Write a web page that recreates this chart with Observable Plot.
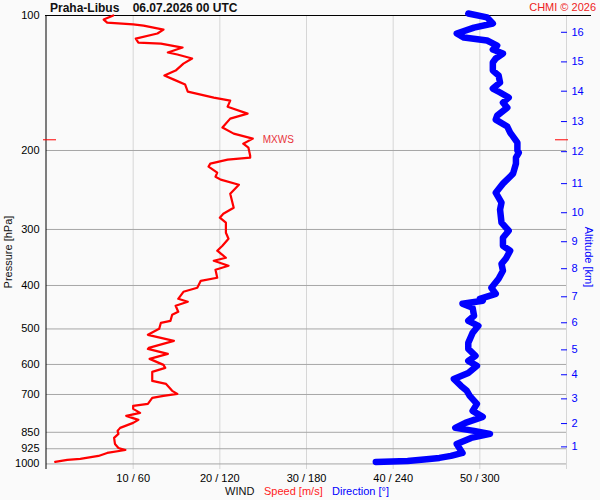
<!DOCTYPE html>
<html><head><meta charset="utf-8">
<script src="https://cdn.jsdelivr.net/npm/d3@7"></script>
<script src="https://cdn.jsdelivr.net/npm/@observablehq/plot@0.6"></script>
<style>
body{margin:0;background:#fafafa;}
svg text{font-family:"Liberation Sans",Arial,sans-serif;}
</style></head><body><div id="chart"></div>
<script>
const speedPressure = [100,102.1,103.7,104.7,105.3,107.5,109.7,112.6,114.9,115.5,117.9,120.9,122.2,124.7,128,132.7,136.1,139,142.6,147.8,152.4,154.8,159.7,165.5,169.8,177.8,183.4,188.2,193.1,197.1,205.4,207.5,209.6,214,217.3,224.1,228.8,232.3,238.4,249.7,268.3,276.7,282.4,289.7,305.1,314.7,326.2,334.6,346.9,352.3,361.4,368.9,384.5,390.5,404.8,413.2,428.3,434.9,444,457.9,465,479.6,484.5,499.7,515.3,523.4,531.5,551.1,553.9,568.3,583.1,601.3,610.7,623.3,652.9,663.1,687.1,698,705.1,712.4,734.5,742.1,753.7,769.4,781.3,797.5,809.9,830.9,843.8,857,875,902.5,921.2,930.8,945,959.7,974.5,979.5,989.7];
const speedValues = [7.7,6.6,7.0,10.0,11.2,13.5,12.8,10.3,10.6,13.2,15.7,14.0,15.1,16.8,15.8,14.9,13.6,14.7,16.0,16.3,19.3,21.2,20.9,23.2,21.2,20.3,21.6,23.8,22.7,23.3,23.5,23.5,20.9,18.9,18.7,19.7,19.5,20.1,22.2,21.2,21.6,20.4,20.0,20.7,20.7,21.0,20.3,19.7,20.7,19.3,21.0,19.5,19.7,17.8,17.4,15.8,15.2,16.3,14.9,15.2,14.5,14.3,13.2,13.0,11.7,13.2,14.7,11.8,11.7,14.0,11.9,13.5,13.7,12.2,12.2,13.8,14.5,15.1,13.5,12.2,11.7,10.0,10.0,10.8,9.2,10.6,10.0,8.5,8.2,8.3,7.8,7.9,8.3,9.1,7.0,6.0,3.9,2.4,1.0];
const dirPressure = [99,101,104.2,106.4,109.7,112,113.7,116.7,119.1,121.6,124.7,127.3,132.7,136.1,141.1,145.5,148.5,152.4,156.4,160.5,167.2,170.7,176.9,182.4,192.1,200.1,202.2,207.5,214,225.3,237.1,248.4,261.5,271,289.7,302,313.1,326.2,334.6,348.6,357.8,370.8,386.4,404.8,417.4,428.3,432.6,439.3,448.4,467.4,479.6,492,510.1,537,553.9,574.1,589.1,604.3,626.6,646.3,670,687.1,705.1,734.5,761.5,785.3,809.9,830.9,843.8,857,875,902.5,945,959.7,969.6,974.5,984.7,989.7];
const dirValues = [292,305,309,296,284,289,305,312,309,316,311,309,309,313,314,309,314,320,316,319,312,311,319,321,326,326,327,325,325,323,316,311,315,314,315,320,316,316,321,318,315,316,313,308,311,300,302,288,295,296,292,299,295,292,292,297,292,298,292,282,287,291,293,298,295,302,290,283,296,307,294,284,288,280,272,265,250,228];
const pressureTicks = [100,200,300,400,500,600,700,850,925,1000];
const speedTicks = [10,20,30,40,50];
const directionTicks = [60,120,180,240,300];
const altitudeKm = [1,2,3,4,5,6,7,8,9,10,11,12,13,14,15,16];
const altitudePressure = [916.2,812.8,716,632.6,556.7,484.4,423.9,367,319.5,275.3,237.1,201.2,172.4,147.5,126.9,109.0];
const mxws = [{p: 189.3, speed: 23.8, label: "MXWS"}];

const speedData = speedPressure.map((p, i) => ({p, v: speedValues[i]}));
const dirData = dirPressure.map((p, i) => ({p, v: dirValues[i] / 6}));

const plot = Plot.plot({
  width: 600, height: 500,
  marginLeft: 46, marginRight: 34, marginTop: 15, marginBottom: 31,
  style: {background: "#fafafa", fontFamily: "Liberation Sans, Arial, sans-serif", fontSize: "11px", overflow: "visible"},
  x: {domain: [0, 60]},
  y: {type: "log", domain: [100, 1029], reverse: true},
  marks: [
    Plot.gridX(speedTicks.concat([60]), {stroke: "#d6d6d6", strokeOpacity: 1}),
    Plot.gridY(pressureTicks.slice(1), {stroke: "#a6a6a6", strokeOpacity: 1}),
    Plot.ruleY([100], {stroke: "black", insetLeft: -1, insetRight: -25}),
    Plot.ruleX([0], {stroke: "black", dx: -0.5}),
    Plot.line(speedData, {x: "v", y: "p", stroke: "red", strokeWidth: 2.2}),
    Plot.line(dirData, {x: "v", y: "p", stroke: "blue", strokeWidth: 6.5, strokeLinecap: "round", strokeLinejoin: "round"}),
    Plot.ruleY(mxws, {y: "p", x1: 0, x2: 0, insetLeft: -3, insetRight: -10, stroke: "red"}),
    Plot.ruleY(mxws, {y: "p", x1: 60, x2: 60, insetLeft: -11, insetRight: -2, stroke: "red"}),
    Plot.text(mxws, {x: "speed", y: "p", text: "label", fill: "#e8333a", dx: 10, textAnchor: "start", fontSize: 10}),
    Plot.axisY(pressureTicks, {anchor: "left", tickSize: 0, tickPadding: 7, label: null, fontSize: 11,
      tickFormat: d => String(d)}),
    Plot.axisX(speedTicks, {anchor: "bottom", tickSize: 0, tickPadding: 5, label: null, fontSize: 11,
      tickFormat: d => `${d} / ${directionTicks[speedTicks.indexOf(d)]}`}),
    Plot.axisY(altitudePressure, {anchor: "right", tickSize: 6, dx: -6, tickPadding: 5, label: null, color: "blue", fontSize: 11,
      tickFormat: d => String(altitudeKm[altitudePressure.indexOf(d)])})
  ]
});
document.getElementById("chart").appendChild(plot);

const svg = d3.select(plot);
const addText = (x, y, txt, fill, size, anchor, extra) => {
  const t = svg.append("text").attr("x", x).attr("y", y).attr("font-size", size)
    .attr("fill", fill).attr("text-anchor", anchor).text(txt);
  if (extra) extra(t);
  return t;
};
addText(50, 11.5, "Praha-Libus    06.07.2026 00 UTC", "#111", 12, "start",
  t => t.attr("font-weight", "bold").attr("xml:space", "preserve").style("white-space", "pre"));
addText(596, 10.5, "CHMI © 2026", "#ee2222", 11, "end");
svg.append("text").attr("transform", "translate(12,252) rotate(-90)").attr("text-anchor", "middle")
  .attr("font-size", 11).attr("fill", "#111").text("Pressure [hPa]");
svg.append("text").attr("transform", "translate(585,257) rotate(90)").attr("text-anchor", "middle")
  .attr("font-size", 11).attr("fill", "blue").text("Altitude [km]");
addText(225, 495, "WIND", "#111", 11, "start");
addText(264, 495, "Speed [m/s]", "#ff2222", 11, "start");
addText(332, 495, "Direction [°]", "blue", 11, "start");
</script></body></html>
